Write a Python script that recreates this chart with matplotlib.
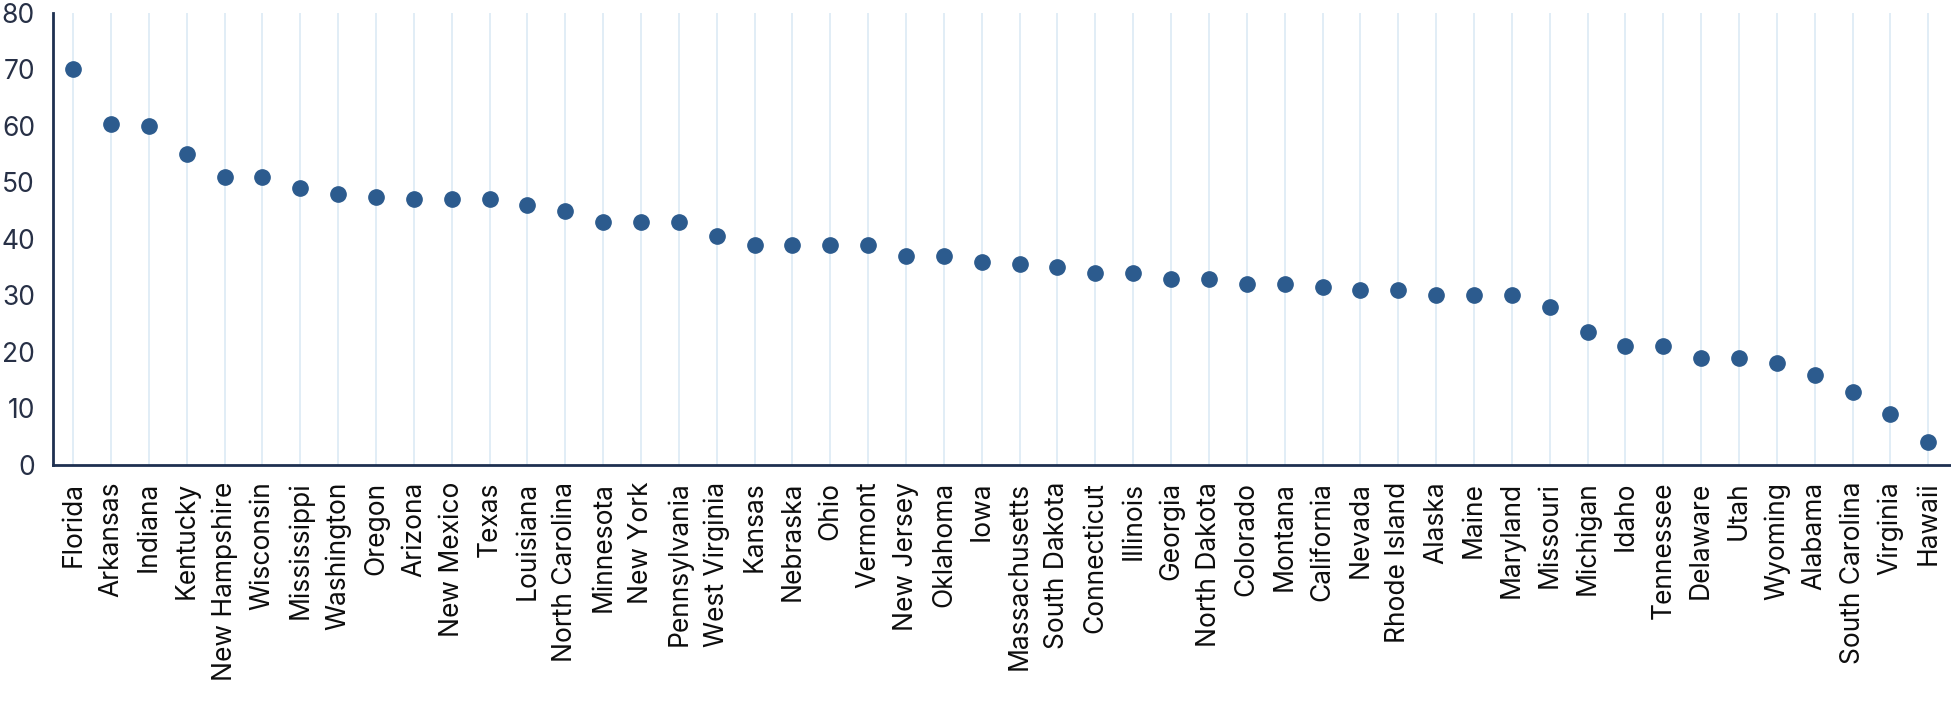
import matplotlib.pyplot as plt
import numpy as np

states = ['Florida', 'Arkansas', 'Indiana', 'Kentucky', 'New Hampshire', 'Wisconsin',
          'Mississippi', 'Washington', 'Oregon', 'Arizona', 'New Mexico', 'Texas',
          'Louisiana', 'North Carolina', 'Minnesota', 'New York', 'Pennsylvania',
          'West Virginia', 'Kansas', 'Nebraska', 'Ohio', 'Vermont', 'New Jersey',
          'Oklahoma', 'Iowa', 'Massachusetts', 'South Dakota', 'Connecticut',
          'Illinois', 'Georgia', 'North Dakota', 'Colorado', 'Montana', 'California',
          'Nevada', 'Rhode Island', 'Alaska', 'Maine', 'Maryland', 'Missouri',
          'Michigan', 'Idaho', 'Tennessee', 'Delaware', 'Utah', 'Wyoming', 'Alabama',
          'South Carolina', 'Virginia', 'Hawaii']
values = [70, 60.4, 60, 55, 51, 51, 49, 48, 47.5, 47, 47, 47, 46, 45, 43, 43, 43,
          40.5, 39, 39, 39, 39, 37, 37, 36, 35.5, 35, 34, 34, 33, 33, 32, 32, 31.5,
          31, 31, 30, 30, 30, 28, 23.5, 21, 21, 19, 19, 18, 16, 13, 9, 4]
yticks = [0, 10, 20, 30, 40, 50, 60, 70, 80]

navy = '#1e3050'
dot = '#2c5b8e'

fig = plt.figure(figsize=(19.51, 7.01), dpi=100)
ax = fig.add_axes([0.0272, 0.3367, 0.9728, 0.6448])

x = np.arange(len(states))
ax.plot(x, values, 'o', color=dot, markersize=11, zorder=3)

ax.set_xlim(-0.53, len(states) - 0.4)
ax.set_ylim(0, 80)
ax.set_yticks(yticks)
ax.set_xticks(x)
ax.set_xticklabels(states, rotation=90, fontsize=19, family='Inter', color='#0d0d0d')
for lab in ax.get_yticklabels():
    lab.set_fontsize(19)
    lab.set_family('Inter')
    lab.set_color('#273046')

ax.grid(axis='x', color='#dbeaf5', linewidth=1.2, zorder=0)
ax.tick_params(length=0)
ax.tick_params(axis='x', pad=12)
ax.tick_params(axis='y', pad=13)

for s in ['top', 'right']:
    ax.spines[s].set_visible(False)
for s in ['left', 'bottom']:
    ax.spines[s].set_color(navy)
    ax.spines[s].set_linewidth(2)

fig.savefig('out.png', dpi=100)
